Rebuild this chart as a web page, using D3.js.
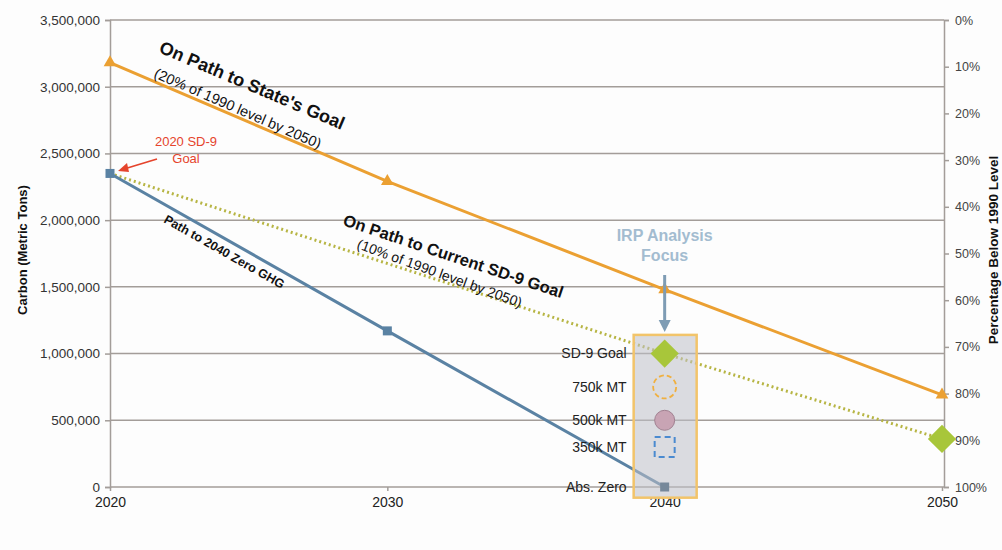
<!DOCTYPE html>
<html><head><meta charset="utf-8">
<script src="https://cdn.jsdelivr.net/npm/d3@7"></script>
<style>
body{margin:0;background:#fdfdfd;}
svg{display:block;font-family:"Liberation Sans",Arial,sans-serif;}
</style></head>
<body><svg id="c" width="1002" height="550"></svg>
<script>
const years = [2020, 2030, 2040, 2050];
const stateGoal = [3180000, 2290000, 1480000, 690000];
const sd9Years = [2020, 2040, 2050];
const sd9Goal = [2350000, 1000000, 360000];
const zeroYears = [2020, 2030, 2040];
const zeroPath = [2350000, 1170000, 0];
const leftTicks = [0, 500000, 1000000, 1500000, 2000000, 2500000, 3000000, 3500000];
const rightTicks = [0, 10, 20, 30, 40, 50, 60, 70, 80, 90, 100];
const focusLabels = ["SD-9 Goal", "750k MT", "500k MT", "350k MT", "Abs. Zero"];
const focusValues = [1000000, 750000, 500000, 300000, 0];

const svg = d3.select("#c");
const L = 110, R = 944, T = 20, B = 487;
const x = d3.scaleLinear().domain([2020, 2050]).range([L, R - 2]);
const y = d3.scaleLinear().domain([0, 3500000]).range([B, T]);
const yr = d3.scaleLinear().domain([0, 100]).range([T, B]);
const grid = "#a39d99";

// gridlines
svg.append("g").selectAll("line").data(leftTicks.filter(d => d > 0)).join("line")
  .attr("x1", L).attr("x2", R).attr("y1", d => y(d)).attr("y2", d => y(d))
  .attr("stroke", grid).attr("stroke-width", 1.5);

// left axis
const ga = svg.append("g").attr("transform", `translate(${L},0)`)
  .call(d3.axisLeft(y).tickValues(leftTicks).tickFormat(d3.format(",")).tickSize(5).tickPadding(5));
ga.selectAll("text").attr("font-size", 13.5).attr("fill", "#333");
ga.selectAll("line,path").attr("stroke", grid).attr("stroke-width", 1.5);

// bottom axis
const gb = svg.append("g").attr("transform", `translate(0,${B})`)
  .call(d3.axisBottom(x).tickValues(years).tickFormat(d3.format("d")).tickSize(4).tickSizeOuter(0).tickPadding(6));
gb.selectAll("text").attr("font-size", 14).attr("fill", "#222");
gb.selectAll("line,path").attr("stroke", grid).attr("stroke-width", 1.5);
gb.select("path").attr("d", `M${L},0H${R}`);

// right axis
const gr = svg.append("g").attr("transform", `translate(${R},0)`)
  .call(d3.axisRight(yr).tickValues(rightTicks).tickFormat(d => d + "%").tickSize(5).tickPadding(6));
gr.selectAll("text").attr("font-size", 12.5).attr("fill", "#444");
gr.selectAll("line,path").attr("stroke", grid).attr("stroke-width", 1.5);

// axis titles
svg.append("text").attr("transform", "translate(27,250) rotate(-90)").attr("text-anchor", "middle")
  .attr("font-size", 13).attr("font-weight", "bold").attr("fill", "#111").text("Carbon (Metric Tons)");
svg.append("text").attr("transform", "translate(998,250) rotate(-90)").attr("text-anchor", "middle")
  .attr("font-size", 13.5).attr("font-weight", "bold").attr("fill", "#111").text("Percentage Below 1990 Level");

const line = d3.line().x(d => x(d[0])).y(d => y(d[1]));

// SD-9 dotted
svg.append("path").datum(sd9Years.map((d, i) => [d, sd9Goal[i]])).attr("d", line)
  .attr("fill", "none").attr("stroke", "#b7b544").attr("stroke-width", 3).attr("stroke-dasharray", "2,3");

// State goal orange
const orange = "#eba032";
svg.append("path").datum(years.map((d, i) => [d, stateGoal[i]])).attr("d", line)
  .attr("fill", "none").attr("stroke", orange).attr("stroke-width", 3);
svg.append("g").selectAll("path").data(years.map((d, i) => [d, stateGoal[i]])).join("path")
  .attr("d", d3.symbol(d3.symbolTriangle, 70)).attr("transform", d => `translate(${x(d[0])},${y(d[1])})`)
  .attr("fill", orange);

// Zero path blue
const blue = "#5a82a3";
svg.append("path").datum(zeroYears.map((d, i) => [d, zeroPath[i]])).attr("d", line)
  .attr("fill", "none").attr("stroke", blue).attr("stroke-width", 3);
svg.append("g").selectAll("rect").data(zeroYears.slice(0, 2).map((d, i) => [d, zeroPath[i]])).join("rect")
  .attr("x", d => x(d[0]) - 4.5).attr("y", d => y(d[1]) - 4.5).attr("width", 9).attr("height", 9).attr("fill", blue);

// Focus box
const bx = x(2040);
svg.append("rect").attr("x", bx - 31).attr("y", y(1140000)).attr("width", 63).attr("height", y(-80000) - y(1140000))
  .attr("fill", "rgba(190,192,200,0.55)").attr("stroke", "#f2c46a").attr("stroke-width", 2.5);

// diamond markers (rotated squares)
function diamond(cx, cy) {
  svg.append("rect").attr("x", -10).attr("y", -10).attr("width", 20).attr("height", 20)
    .attr("transform", `translate(${cx},${cy}) rotate(45)`).attr("fill", "#a8c63a");
}
diamond(bx, y(focusValues[0]));
diamond(x(2050), y(sd9Goal[2]));
svg.append("circle").attr("cx", bx).attr("cy", y(focusValues[1])).attr("r", 11.5)
  .attr("fill", "none").attr("stroke", "#f0b040").attr("stroke-width", 1.8).attr("stroke-dasharray", "5,3");
svg.append("circle").attr("cx", bx).attr("cy", y(focusValues[2])).attr("r", 10)
  .attr("fill", "#c8a4b4").attr("stroke", "#a08090").attr("stroke-width", 1);
svg.append("rect").attr("x", bx - 10).attr("y", y(focusValues[3]) - 10).attr("width", 20).attr("height", 20)
  .attr("fill", "none").attr("stroke", "#4a8ad0").attr("stroke-width", 2).attr("stroke-dasharray", "6,4");
svg.append("rect").attr("x", bx - 4.5).attr("y", y(0) - 4.5).attr("width", 9).attr("height", 9).attr("fill", "#76889a");

svg.append("g").selectAll("text").data(focusLabels).join("text")
  .attr("x", bx - 38).attr("y", (d, i) => y(focusValues[i])).attr("dy", "0.35em").attr("text-anchor", "end")
  .attr("font-size", 14).attr("fill", "#222").text(d => d);

// IRP label + arrow
svg.append("text").attr("x", bx).attr("y", 241).attr("text-anchor", "middle").attr("font-size", 16)
  .attr("font-weight", "bold").attr("fill", "#a3bcd0").text("IRP Analysis");
svg.append("text").attr("x", bx).attr("y", 261).attr("text-anchor", "middle").attr("font-size", 16)
  .attr("font-weight", "bold").attr("fill", "#a3bcd0").text("Focus");
svg.append("line").attr("x1", bx).attr("x2", bx).attr("y1", 275).attr("y2", 322)
  .attr("stroke", "#7e9cb4").attr("stroke-width", 3);
svg.append("path").attr("d", `M${bx - 6},320L${bx + 6},320L${bx},332Z`).attr("fill", "#7e9cb4");

// Annotations
function rotText(tx, ty, ang, txt, size, weight, fill) {
  svg.append("text").attr("transform", `translate(${tx},${ty}) rotate(${ang})`)
    .attr("font-size", size).attr("font-weight", weight).attr("fill", fill || "#111").text(txt);
}
rotText(158, 52, 23, "On Path to State's Goal", 18, "bold");
rotText(153, 77, 23.5, "(20% of 1990  level by 2050)", 14.5, "normal");
rotText(342, 225, 18.5, "On Path to Current SD-9 Goal", 16.5, "bold");
rotText(356, 248, 20, "(10% of 1990 level by 2050)", 14, "normal");
rotText(163, 222, 29.5, "Path to 2040 Zero GHG", 12.5, "bold");

// red note
svg.append("text").attr("x", 186).attr("y", 146).attr("text-anchor", "middle").attr("font-size", 13)
  .attr("fill", "#e5442c").text("2020 SD-9");
svg.append("text").attr("x", 186).attr("y", 163).attr("text-anchor", "middle").attr("font-size", 13)
  .attr("fill", "#e5442c").text("Goal");
svg.append("line").attr("x1", 157).attr("y1", 159).attr("x2", 124).attr("y2", 169)
  .attr("stroke", "#e5442c").attr("stroke-width", 1.8);
svg.append("path").attr("d", "M118,171L127,163L129,172Z").attr("fill", "#e5442c");
</script></body></html>
